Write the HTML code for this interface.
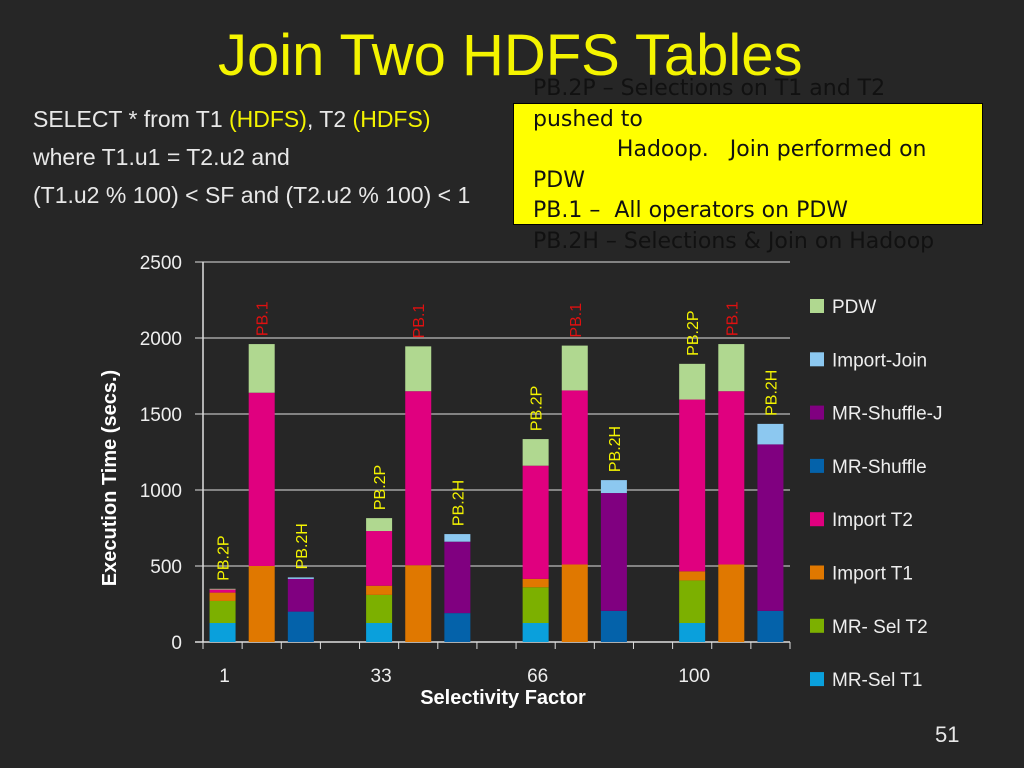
<!DOCTYPE html>
<html><head><meta charset="utf-8"><style>
body{margin:0;width:1024px;height:768px;background:#262626;overflow:hidden;font-family:"Liberation Sans",sans-serif;position:relative}
.t{position:absolute;white-space:nowrap}
</style></head><body>
<div class="t" style="left:218px;top:22px;font-size:58px;color:#f4f400">Join Two HDFS Tables</div>
<div class="t" style="left:33px;top:100px;font-size:23px;color:#e8e8e8;line-height:38px">SELECT * from T1 <span style="color:#f4f400">(HDFS)</span>, T2 <span style="color:#f4f400">(HDFS)</span><br>where T1.u1 = T2.u2 and<br>(T1.u2 % 100) &lt; SF and (T2.u2 % 100) &lt; 1</div>
<div style="position:absolute;left:513px;top:103px;width:468px;height:120px;background:#ffff00;border:1px solid #000"></div>
<div class="t" style="left:533px;top:74px;font-size:22px;line-height:30.5px;color:#111;font-family:'DejaVu Sans',sans-serif">PB.2P – Selections on T1 and T2<br>pushed to<br>&nbsp;&nbsp;&nbsp;&nbsp;&nbsp;&nbsp;&nbsp;&nbsp;&nbsp;&nbsp;&nbsp;&nbsp;Hadoop.&nbsp;&nbsp; Join performed on<br>PDW<br>PB.1 –&nbsp; All operators on PDW<br>PB.2H – Selections &amp; Join on Hadoop</div>
<div class="t" style="left:935px;top:722px;font-size:22px;color:#e8e8e8">51</div>
<svg id="chart" width="1024" height="768" style="position:absolute;left:0;top:0"></svg>
<script>
const categories=["1","33","66","100"];
const approaches=["PB.2P","PB.1","PB.2H"];
const seriesNames=["MR-Sel T1","MR- Sel T2","Import T1","Import T2","MR-Shuffle","MR-Shuffle-J","Import-Join","PDW"];
const colors=["#0aa0dc","#7cb000","#e07800","#e0007f","#0462aa","#800080","#8cc8f0","#b0d890"];
// values per bar (stack order as seriesNames)
const pb2p=[[125,145,55,20,0,0,0,5],[125,185,60,360,0,0,0,85],[125,235,55,745,0,0,0,175],[125,280,60,1130,0,0,0,235]];
const pb1=[[0,0,500,1140,0,0,0,320],[0,0,505,1145,0,0,0,295],[0,0,510,1145,0,0,0,295],[0,0,510,1140,0,0,0,310]];
const pb2h=[[0,0,0,0,200,215,10,0],[0,0,0,0,190,470,50,0],[0,0,0,0,205,775,85,0],[0,0,0,0,205,1095,135,0]];
const yTicks=[0,500,1000,1500,2000,2500];
const NS="http://www.w3.org/2000/svg";
const svg=document.getElementById('chart');
const x0=203,x1=790,y0=642,yMax=2500,yTop=262,nSlots=15,slotW=(x1-x0)/nSlots,barW=26;
const yS=v=>y0-(v/yMax)*(y0-yTop);
function mk(tag,a){const e=document.createElementNS(NS,tag);for(const k in a)e.setAttribute(k,a[k]);svg.appendChild(e);return e;}
yTicks.forEach(v=>{
 const l=mk('line',{x1:195,x2:x1,y1:yS(v),y2:yS(v),stroke:v===0?'#ddd':'#bbb','stroke-width':v===0?1.5:1.2});
 
 
 const t=mk('text',{x:182,y:yS(v)+7,'text-anchor':'end',fill:'#eee','font-size':19,'font-family':'Liberation Sans, sans-serif'});
 t.textContent=v;
 
 
});
const ax=mk('line',{x1:x0,x2:x0,y1:yTop,y2:y0,stroke:'#ddd','stroke-width':1.5});


for(let i=0;i<=nSlots;i++){const tk=mk('line',{x1:x0+i*slotW,x2:x0+i*slotW,y1:y0,y2:y0+7,stroke:'#ddd'});
 
 }
const groups=[pb2p,pb1,pb2h];
const labelColors=["#f4f400","#e01010","#f4f400"];
categories.forEach((c,ci)=>{
 const t=mk('text',{x:x0+(ci*4+0.5)*slotW+2,y:682,'text-anchor':'middle',fill:'#eee','font-size':19,'font-family':'Liberation Sans, sans-serif'});
 t.textContent=c;
 
 
 groups.forEach((g,gi)=>{
  const slot=ci*4+gi;const bx=x0+slot*slotW+(slotW-barW)/2;
  let cum=0;
  g[ci].forEach((v,si)=>{ if(v<=0)return;
   const r=mk('rect',{x:bx,y:yS(cum+v),width:barW,height:yS(cum)-yS(cum+v),fill:colors[si]});
   
   
   cum+=v;});
  const lx=bx+barW/2+6,ly=yS(cum)-8;
  const lt=mk('text',{x:lx,y:ly,transform:`rotate(-90 ${lx} ${ly})`,fill:labelColors[gi],'font-size':16,'font-family':'Liberation Sans, sans-serif'});
  lt.textContent=approaches[gi];
  
  
 });
});
const yt=mk('text',{x:116,y:478,transform:'rotate(-90 116 478)','text-anchor':'middle',fill:'#fff','font-size':20,'font-weight':'bold','font-family':'Liberation Sans, sans-serif'});
yt.textContent='Execution Time (secs.)';


const xt=mk('text',{x:503,y:704,'text-anchor':'middle',fill:'#fff','font-size':20,'font-weight':'bold','font-family':'Liberation Sans, sans-serif'});
xt.textContent='Selectivity Factor';


for(let i=seriesNames.length-1,k=0;i>=0;i--,k++){
 const ly=307+k*53.3;
 const r=mk('rect',{x:810,y:ly-8,width:14,height:14,fill:colors[i]});
 
 
 const t=mk('text',{x:832,y:ly+6,fill:'#eee','font-size':19,'font-family':'Liberation Sans, sans-serif'});
 t.textContent=seriesNames[i];
 
 
}
</script>
</body></html>
